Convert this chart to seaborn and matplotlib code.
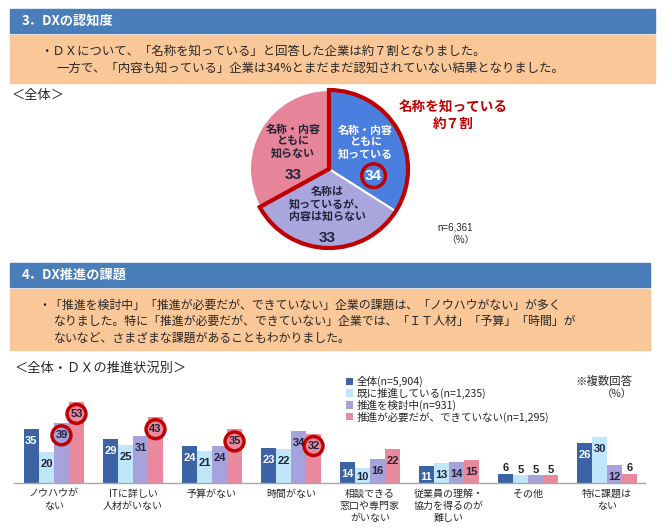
import matplotlib
matplotlib.use("Agg")
import matplotlib.pyplot as plt
from matplotlib.patches import Rectangle
import seaborn as sns
import pandas as pd
import numpy as np

# 3. DX awareness (pie)
pie_labels = ["名称・内容\nともに\n知っている", "名称は\n知っているが、\n内容は知らない", "名称・内容\nともに\n知らない"]
pie_values = [34, 33, 33]
pie_colors = ["#4A7FE0", "#A9A5DD", "#E6849A"]

# 4. DX challenges by status (bars)
issues = ["ノウハウが\nない", "ITに詳しい\n人材がいない", "予算がない", "時間がない",
          "相談できる\n窓口や専門家\nがいない", "従業員の理解・\n協力を得るのが\n難しい",
          "その他", "特に課題は\nない"]
series = ["全体(n=5,904)", "既に推進している(n=1,235)", "推進を検討中(n=931)",
          "推進が必要だが、できていない(n=1,295)"]
v_all = [35, 29, 24, 23, 14, 11, 6, 26]
v_doing = [20, 25, 21, 22, 10, 13, 5, 30]
v_considering = [39, 31, 24, 34, 16, 14, 5, 12]
v_needed = [53, 43, 35, 32, 22, 15, 5, 6]
bar_colors = ["#3B63A6", "#BFE6FA", "#A8A2DC", "#E8899D"]
circled = [(0, 2), (0, 3), (1, 3), (2, 3), (3, 3)]  # (issue, series) with red ring

RED = "#C00000"
DARK = "#222238"

sns.set_theme(style="white")
plt.rcParams['font.family'] = ['Noto Sans CJK JP', 'DejaVu Sans']
NUM = ['Liberation Sans', 'Noto Sans CJK JP']

W, H = 670, 530
fig = plt.figure(figsize=(6.7, 5.3), dpi=100)


def pt(x, y):
    return x / W, 1 - y / H


def box(x0, y0, x1, y1):
    return [x0 / W, 1 - y1 / H, (x1 - x0) / W, (y1 - y0) / H]


def rect(x0, y0, x1, y1, color):
    fig.patches.append(Rectangle(pt(x0, y1), (x1 - x0) / W, (y1 - y0) / H,
                                 transform=fig.transFigure, color=color, zorder=-5))


# section headers and summary boxes
rect(10, 9, 655, 33, "#4A7EBB")
fig.text(*pt(22, 21), "3．DXの認知度", color="white", fontsize=9.5, weight="bold", va="center")
rect(10, 35, 655, 83, "#FAC898")
fig.text(*pt(40, 51), "・ＤＸについて、「名称を知っている」と回答した企業は約７割となりました。",
         fontsize=8.9, va="center")
fig.text(*pt(56, 68), "一方で、「内容も知っている」企業は34%とまだまだ認知されていない結果となりました。",
         fontsize=8.9, va="center")

rect(10, 263, 650, 287, "#4A7EBB")
fig.text(*pt(22, 275), "4．DX推進の課題", color="white", fontsize=9.5, weight="bold", va="center")
rect(10, 289, 650, 350, "#FAC898")
lines2 = ["・「推進を検討中」「推進が必要だが、できていない」企業の課題は、「ノウハウがない」が多く",
          "なりました。特に「推進が必要だが、できていない」企業では、「ＩＴ人材」「予算」「時間」が",
          "ないなど、さまざまな課題があることもわかりました。"]
for i, s in enumerate(lines2):
    fig.text(*pt(38 if i == 0 else 54, 305 + 16.5 * i), s, fontsize=8.6, va="center")

fig.text(*pt(12, 95), "＜全体＞", fontsize=9.5, va="center")

# pie
R = 79
cx, cy = 329, 169
axp = fig.add_axes(box(cx - 1.3 * R, cy - 1.3 * R, cx + 1.3 * R, cy + 1.3 * R))
axp.set_facecolor("none")
wedges, _ = axp.pie(pie_values, colors=pie_colors, startangle=90, counterclock=False,
                    wedgeprops=dict(edgecolor="white", linewidth=1.5))
outline, _ = axp.pie([pie_values[0] + pie_values[1], pie_values[2]], colors=["none", "none"],
                     startangle=90, counterclock=False,
                     wedgeprops=dict(edgecolor=RED, linewidth=3))
outline[1].set_edgecolor("none")
axp.set_xlim(-1.3, 1.3)
axp.set_ylim(-1.3, 1.3)

for i, (w, lab, val) in enumerate(zip(wedges, pie_labels, pie_values)):
    mid = np.deg2rad((w.theta1 + w.theta2) / 2)
    x, y = 0.53 * np.cos(mid), 0.53 * np.sin(mid)
    col = "white" if i == 0 else DARK
    axp.text(x, y + 0.08, lab, ha="center", va="center", fontsize=7.9, weight="bold",
             color=col, linespacing=1.2)
    axp.text(x + (0.1 if i == 0 else 0), y - 0.34, f"{val}", ha="center", va="center",
             fontsize=11, weight="bold", color=col, family=NUM)
    if i == 0:
        axp.scatter(x + 0.1, y - 0.34, s=290, facecolors="none", edgecolors=RED,
                    linewidths=2.5, zorder=5)

fig.text(*pt(453, 108), "名称を知っている", color=RED, fontsize=9.8, weight="bold",
         ha="center", va="center")
fig.text(*pt(453, 124), "約７割", color=RED, fontsize=9.8, weight="bold",
         ha="center", va="center")
fig.text(*pt(437, 227), "n=6,361", fontsize=7, va="center", family=NUM)
fig.text(*pt(446, 240), "（%）", fontsize=7, va="center")

# bar chart
fig.text(*pt(15, 368), "＜全体・ＤＸの推進状況別＞", fontsize=9.5, va="center")
df = pd.DataFrame({
    "課題": issues * 4,
    "状況": np.repeat(series, len(issues)),
    "割合": v_all + v_doing + v_considering + v_needed,
})
y_top = 391.2
axb = fig.add_axes(box(14, y_top, 645, 483))
axb.set_facecolor("none")
sns.barplot(data=df, x="課題", y="割合", hue="状況", palette=bar_colors, width=0.76,
            saturation=1, linewidth=0, ax=axb)
axb.set_ylim(0, 60)
axb.set_xlim(-0.506, 7.48)
axb.set(xlabel="", ylabel="", yticks=[])
sns.despine(ax=axb, left=True)
axb.spines["bottom"].set_color("#A6A6A6")
axb.spines["bottom"].set_linewidth(1)
axb.tick_params(axis="x", length=0, pad=4, labelsize=7.2, labelcolor="#262626")
for t in axb.get_xticklabels():
    t.set_linespacing(1.3)

u = 60 / (483 - y_top)  # data units per pixel
for si, cont in enumerate(axb.containers):
    for ci, bar in enumerate(cont):
        h = bar.get_height()
        xc = bar.get_x() + bar.get_width() / 2
        if h <= 6:
            y, va, col = h + 0.5 * u, "bottom", DARK
        else:
            y, va = max(h - 12 * u, 6 * u), "center"
            col = "white" if si == 0 else DARK
        axb.text(xc, y, f"{h:.0f}", ha="center", va=va, fontsize=8, weight="bold",
                 color=col, family=NUM, zorder=6)
        if (ci, si) in circled:
            axb.scatter(xc, y, s=185, facecolors="none", edgecolors=RED, linewidths=2.5,
                        zorder=5, clip_on=False)

sns.move_legend(axb, "upper left", bbox_to_anchor=pt(346, 376), bbox_transform=fig.transFigure,
                title=None, frameon=False, fontsize=7.6, handlelength=0.7, handleheight=0.7,
                handletextpad=0.3, labelspacing=0.05, borderpad=0, borderaxespad=0)

fig.text(*pt(632, 381), "※複数回答", fontsize=8.2, ha="right", va="center")
fig.text(*pt(632, 394), "（%）", fontsize=7.5, ha="right", va="center")

fig.savefig("out.png", dpi=100)
